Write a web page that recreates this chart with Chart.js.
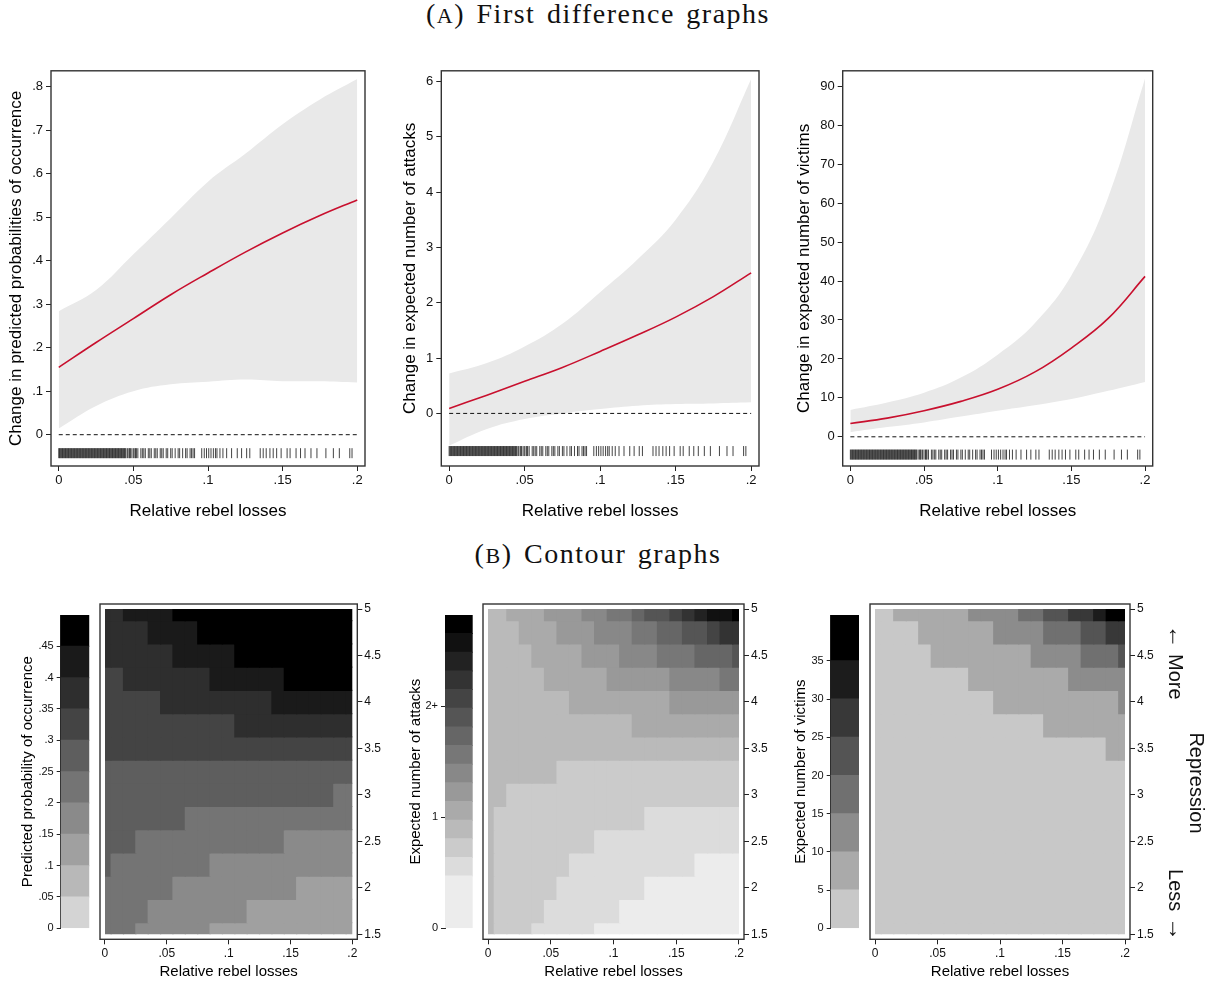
<!DOCTYPE html>
<html>
<head>
<meta charset="utf-8">
<script src="https://cdn.jsdelivr.net/npm/chart.js@4.4.1/dist/chart.umd.min.js"></script>
<style>
  body { margin: 0; width: 1212px; height: 983px; position: relative; overflow: hidden; background: #fff; font-family: 'Liberation Sans', Arial, sans-serif; }
  canvas { position: absolute; }
  .cap { position: absolute; left: 0; width: 1196px; text-align: center; font-family: 'Liberation Serif', serif; font-size: 28px; line-height: 32px; letter-spacing: 1.5px; word-spacing: 3px; color: #111; }
  .cap .sc { font-size: 22px; }
  .side { position: absolute; font-size: 20px; color: #111; white-space: nowrap; transform: translate(-50%, -50%) rotate(90deg); }
  .side .arr { font-size: 24px; }
</style>
</head>
<body>
<div class="cap" style="top:-2px">(<span class="sc">A</span>) First difference graphs</div>
<div class="cap" style="top:538px">(<span class="sc">B</span>) Contour graphs</div>

<canvas id="fdOcc" width="380" height="470" style="left:0px;top:60px"></canvas>
<canvas id="fdAtt" width="380" height="470" style="left:394px;top:60px"></canvas>
<canvas id="fdVic" width="424" height="470" style="left:788px;top:60px"></canvas>

<canvas id="barOcc" width="100" height="393" style="left:0px;top:590px"></canvas>
<canvas id="mapOcc" width="305" height="393" style="left:95px;top:590px"></canvas>
<canvas id="barAtt" width="85" height="393" style="left:400px;top:590px"></canvas>
<canvas id="mapAtt" width="305" height="393" style="left:478px;top:590px"></canvas>
<canvas id="barVic" width="85" height="393" style="left:785px;top:590px"></canvas>
<canvas id="mapVic" width="300" height="393" style="left:865px;top:590px"></canvas>

<div class="side" style="left:1177px;top:662px"><span class="arr">&larr;</span> More</div>
<div class="side" style="left:1196px;top:783px">Repression</div>
<div class="side" style="left:1177px;top:905px">Less <span class="arr">&rarr;</span></div>

<script>
// --- first difference curves (x = relative rebel losses)
const lossGrid = [0, .025, .05, .075, .1, .125, .15, .175, .2];
const occMean  = [.155, .212, .267, .322, .372, .420, .464, .504, .540];
const occUpper = [.284, .333, .415, .498, .582, .646, .714, .771, .818];
const occLower = [.014, .066, .100, .116, .122, .127, .123, .123, .120];
const attMean  = [.09, .33, .58, .83, 1.12, 1.42, 1.74, 2.11, 2.54];
const attUpper = [.72, .91, 1.21, 1.62, 2.19, 2.79, 3.5, 4.55, 6.04];
const attLower = [-.58, -.28, -.10, 0, .08, .14, .17, .18, .20];
const vicMean  = [3.4, 4.8, 6.7, 9.1, 12.2, 16.6, 22.8, 30.4, 41.2];
const vicUpper = [6.9, 8.8, 11.3, 15.2, 21.1, 29.1, 41.4, 61.5, 92];
const vicLower = [1.2, 2.5, 3.7, 5.2, 6.7, 8.1, 9.7, 11.8, 14.1];

// observed relative rebel losses (rug)
const rugLosses = [
  0, .0005, .001, .0015, .002, .0025, .003, .0035, .004, .0045, .005, .0055, .006, .0065, .007, .0075,
  .008, .0085, .009, .0095, .010, .0105, .011, .0115, .012, .0125, .013, .0135, .014, .0145, .015, .0155,
  .016, .0165, .017, .0175, .018, .0185, .019, .0195, .020, .0205, .021, .0215, .022, .0225, .023, .0235,
  .024, .0245, .025, .0255, .026, .0265, .027, .0275, .028, .0285, .029, .0295, .030, .0305, .031, .0315,
  .032, .0325, .033, .0335, .034, .0345, .035, .0355, .036, .0365, .037, .0375, .038, .0385, .039, .0395,
  .040, .0405, .041, .0415, .042, .0425, .043, .0435, .044, .0445, .045,
  .046, .047, .0475, .048, .049, .050, .051, .0515, .052, .053, .055, .056, .057, .058, .060, .061, .062,
  .064, .065, .066, .068, .069, .070, .072, .073, .075, .076, .078, .080, .081, .083, .085,
  .086, .088, .089, .090, .091,
  .0958, .0975, .099, .1005, .102, .1036, .105, .106, .108, .110, .1125, .1158, .1196, .1225,
  .1259, .128, .135, .137, .139, .1415, .1437, .146, .149, .153, .155, .159, .162, .165,
  .169, .173, .179, .184, .188, .195, .1965
];

const lossTicks = [0, .05, .1, .15, .2];
const occTicks = [0, .1, .2, .3, .4, .5, .6, .7, .8];
const attTicks = [0, 1, 2, 3, 4, 5, 6];
const vicTicks = [0, 10, 20, 30, 40, 50, 60, 70, 80, 90];

// --- contour grids: rows = repression (top to bottom), cols = losses 0..0.2 by 0.01
const repression = [5, 4.75, 4.5, 4.25, 4, 3.75, 3.5, 3.25, 3, 2.75, 2.5, 2.25, 2, 1.75, 1.5];
const lossCols = [0, .01, .02, .03, .04, .05, .06, .07, .08, .09, .1, .11, .12, .13, .14, .15, .16, .17, .18, .19, .2];
const repTicks = [1.5, 2, 2.5, 3, 3.5, 4, 4.5, 5];

// contour level (bin index, hex digit) of each cell
const occLevels = [
  '778888999999999999999',
  '777788889999999999999',
  '777777888889999999999',
  '667777777888888999999',
  '666667777777778888888',
  '666666666667777777777',
  '666666666666666666666',
  '555555555555555555555',
  '555555555555555555544',
  '555555544444444444444',
  '555444444444444333333',
  '544444444333333333333',
  '444444333333333322222',
  '444433333333222222222',
  '444333333222222222222'
];
const attLevels = [
  '334445556677899abcdde',
  '333444555666778899abb',
  '333344445556667778889',
  '333334444455555666677',
  '333333344444444555555',
  '333333333333444444444',
  '333333333333333333333',
  '333333222222222222222',
  '332222222222222222222',
  '322222222222211111111',
  '322222222111111111111',
  '322222211111111110000',
  '322222111111100000000',
  '322221111110000000000',
  '322211111000000000000'
];
const vicLevels = [
  '001111112222334455677',
  '000011111122223334455',
  '000001111111122223334',
  '000000001111111122222',
  '000000000011111111112',
  '000000000000001111111',
  '000000000000000000011',
  '000000000000000000000',
  '000000000000000000000',
  '000000000000000000000',
  '000000000000000000000',
  '000000000000000000000',
  '000000000000000000000',
  '000000000000000000000',
  '000000000000000000000'
];

// contour cut points (legend bars)
const occCuts = [0, .05, .1, .15, .2, .25, .3, .35, .4, .45, .5];
const attCuts = [0, .47, .637, .805, .973, 1.141, 1.309, 1.477, 1.645, 1.813, 1.981, 2.149, 2.317, 2.485, 2.653, 2.82];
const vicCuts = [0, 5, 10, 15, 20, 25, 30, 35, 41];
const occBarTicks = [0, .05, .1, .15, .2, .25, .3, .35, .4, .45];
const attBarTicks = [0, 1, 2];
const attBarLabels = ['0', '1', '2+'];
const vicBarTicks = [0, 5, 10, 15, 20, 25, 30, 35];

const occGrays = ['#d4d4d4', '#b8b8b8', '#a0a0a0', '#8a8a8a', '#747474', '#5e5e5e', '#444444', '#2e2e2e', '#1a1a1a', '#000000'];
const attGrays = ['#ececec', '#dcdcdc', '#cbcbcb', '#bababa', '#aaaaaa', '#999999', '#888888', '#777777', '#666666', '#555555', '#444444', '#333333', '#222222', '#111111', '#000000'];
const vicGrays = ['#c8c8c8', '#aaaaaa', '#8c8c8c', '#707070', '#545454', '#383838', '#1c1c1c', '#000000'];

Chart.defaults.font.family = "'Liberation Sans', Arial, sans-serif";
Chart.defaults.color = '#111';

const framePlugin = {
  id: 'frame',
  afterDraw(chart, args, opts) {
    if (!opts.show) return;
    const { ctx, chartArea: a } = chart;
    ctx.save();
    ctx.strokeStyle = '#333';
    ctx.lineWidth = 1.4;
    ctx.strokeRect(a.left, a.top, a.right - a.left, a.bottom - a.top);
    ctx.restore();
  }
};

const fmt = v => v === 0 ? '0' : String(v).replace(/^0\./, '.');
const fixTicks = vals => s => { s.ticks = vals.map(value => ({ value })); };
const tickGrid = len => ({ display: true, drawOnChartArea: false, drawTicks: true, tickLength: len, color: '#222' });

function firstDiff(id, mean, upper, lower, yTicks, yMin, yMax, rugY, yTitle, yWidth, padRight) {
  const pts = arr => lossGrid.map((x, i) => ({ x, y: arr[i] }));
  new Chart(document.getElementById(id), {
    type: 'line',
    data: {
      datasets: [
        { data: pts(upper), borderColor: 'rgba(0,0,0,0)', borderWidth: 0, pointRadius: 0, fill: '+1', backgroundColor: '#e9e9e9', tension: 0.4, order: 5 },
        { data: pts(lower), borderColor: 'rgba(0,0,0,0)', borderWidth: 0, pointRadius: 0, fill: false, tension: 0.4, order: 4 },
        { data: [{ x: 0, y: 0 }, { x: .2, y: 0 }], borderColor: '#111', borderWidth: 1, borderDash: [4, 3], pointRadius: 0, order: 2 },
        { data: rugLosses.map(x => ({ x, y: rugY })), showLine: false, pointStyle: 'line', pointRotation: 90, pointRadius: 5, pointBorderWidth: 1, pointBorderColor: 'rgba(35,35,35,0.85)', order: 1 },
        { data: pts(mean), borderColor: '#c8102e', borderWidth: 1.6, pointRadius: 0, tension: 0.4, order: 0 }
      ]
    },
    options: {
      responsive: false, animation: false, events: [],
      layout: { padding: { top: 6, right: padRight, left: 0, bottom: 0 } },
      plugins: { legend: { display: false }, tooltip: { enabled: false }, frame: { show: true } },
      scales: {
        x: {
          type: 'linear', min: -.0052, max: .2052,
          afterBuildTicks: fixTicks(lossTicks),
          afterFit: s => { s.height = 64; },
          ticks: { callback: fmt, font: { size: 13 }, padding: 2, maxRotation: 0, autoSkip: false },
          grid: tickGrid(5), border: { display: false },
          title: { display: true, text: 'Relative rebel losses', font: { size: 17 }, color: '#000', padding: { top: 0, bottom: 8 } }
        },
        y: {
          type: 'linear', min: yMin, max: yMax,
          afterBuildTicks: fixTicks(yTicks),
          afterFit: s => { s.width = yWidth; },
          ticks: { callback: fmt, font: { size: 13 }, padding: 3, autoSkip: false },
          grid: tickGrid(5), border: { display: false },
          title: { display: true, text: yTitle, font: { size: 17 }, color: '#000', padding: { top: 6, bottom: 0 } }
        }
      }
    },
    plugins: [framePlugin]
  });
}

function legendBar(id, cuts, grays, ticks, labels, title, yWidth, titlePad, padRight) {
  new Chart(document.getElementById(id), {
    type: 'bar',
    data: {
      labels: [''],
      datasets: grays.map((c, i) => ({
        data: [[cuts[i], cuts[i + 1]]], backgroundColor: c, grouped: false,
        barPercentage: 1, categoryPercentage: 1, borderWidth: 0, inflateAmount: 0.5
      }))
    },
    options: {
      responsive: false, animation: false, events: [],
      layout: { padding: { top: 25, right: padRight, left: 0, bottom: 54.7 } },
      plugins: { legend: { display: false }, tooltip: { enabled: false } },
      scales: {
        x: { display: false },
        y: {
          type: 'linear', min: 0, max: cuts[cuts.length - 1],
          afterBuildTicks: fixTicks(ticks),
          afterFit: s => { s.width = yWidth; },
          ticks: { callback: (v, i) => labels ? labels[i] : fmt(v), font: { size: 11 }, padding: 3, autoSkip: false },
          grid: tickGrid(4), border: { display: true, color: '#222', width: 1 },
          title: { display: true, text: title, font: { size: 15 }, color: '#000', padding: { top: titlePad, bottom: 0 } }
        }
      }
    }
  });
}

function contourMap(id, levels, grays, rightWidth) {
  new Chart(document.getElementById(id), {
    type: 'bar',
    data: {
      datasets: levels.map((row, i) => ({
        data: lossCols.map(x => ({ x, y: [repression[i] - .125, repression[i] + .125] })),
        backgroundColor: row.split('').map(ch => grays[parseInt(ch, 16)]),
        grouped: false, barPercentage: 1, categoryPercentage: 1, borderWidth: 0, inflateAmount: 0.6, clip: -5
      }))
    },
    options: {
      responsive: false, animation: false, events: [],
      layout: { padding: { top: 14, right: 0, left: 5, bottom: 0 } },
      plugins: { legend: { display: false }, tooltip: { enabled: false }, frame: { show: true } },
      scales: {
        x: {
          type: 'linear', min: -.004, max: .204, offset: false,
          afterBuildTicks: fixTicks(lossTicks),
          afterFit: s => { s.height = 43.7; },
          ticks: { callback: fmt, font: { size: 12 }, padding: 2, maxRotation: 0, autoSkip: false },
          grid: { ...tickGrid(5), offset: false }, border: { display: false },
          title: { display: true, text: 'Relative rebel losses', font: { size: 15 }, color: '#000', padding: { top: 0, bottom: 2 } }
        },
        y: {
          type: 'linear', position: 'right', min: 1.445, max: 5.055,
          afterBuildTicks: fixTicks(repTicks),
          afterFit: s => { s.width = rightWidth; },
          ticks: { callback: v => String(v), font: { size: 12 }, padding: 2, autoSkip: false },
          grid: tickGrid(5), border: { display: false }
        }
      }
    },
    plugins: [framePlugin]
  });
}

firstDiff('fdOcc', occMean, occUpper, occLower, occTicks, -.072, .837, -.0425, 'Change in predicted probabilities of occurrence', 51, 15);
firstDiff('fdAtt', attMean, attUpper, attLower, attTicks, -.95, 6.19, -.68, 'Change in expected number of attacks', 47.3, 15);
firstDiff('fdVic', vicMean, vicUpper, vicLower, vicTicks, -7.5, 94, -4.57, 'Change in expected number of victims', 54.7, 59.3);

legendBar('barOcc', occCuts, occGrays, occBarTicks, null, 'Predicted probability of occurrence', 60.7, 19, 10.7);
legendBar('barAtt', attCuts, attGrays, attBarTicks, attBarLabels, 'Expected number of attacks', 45, 7, 12.3);
legendBar('barVic', vicCuts, vicGrays, vicBarTicks, null, 'Expected number of victims', 45.7, 7, 11);

contourMap('mapOcc', occLevels, occGrays, 42.7);
contourMap('mapAtt', attLevels, attGrays, 39);
contourMap('mapVic', vicLevels, vicGrays, 35);
</script>
</body>
</html>
